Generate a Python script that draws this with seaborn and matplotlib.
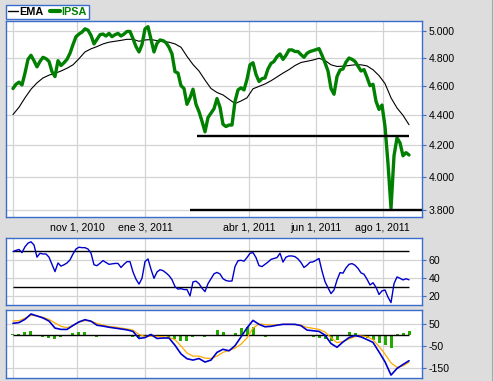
import numpy as np
import pandas as pd
import matplotlib
matplotlib.use("Agg")
import matplotlib.pyplot as plt
import seaborn as sns
from matplotlib.lines import Line2D
from matplotlib.ticker import NullLocator

# ---------------- data ----------------
# x axis: trading-session sample index (about two sessions per sample)
date_tick_pos = [0, 21.4, 44.1, 78.6, 100.9, 123.2]
date_tick_labels = ["", "nov 1, 2010", "ene 3, 2011", "abr 1, 2011", "jun 1, 2011", "ago 1, 2011"]

ipsa = [4580, 4610, 4625, 4605, 4690, 4790, 4820, 4780, 4735, 4775,
        4805, 4795, 4775, 4700, 4665, 4780, 4745, 4765, 4790, 4835,
        4900, 4960, 4980, 4995, 5020, 5010, 4970, 4905, 4940, 4975,
        4980, 4965, 4985, 4960, 4975, 4985, 4965, 4980, 5000, 5000,
        4945, 4885, 4845, 4900, 5020, 5037, 4940, 4845, 4910, 4935,
        4930, 4915, 4880, 4830, 4700, 4690, 4600, 4580, 4470, 4515,
        4575, 4470, 4420, 4355, 4285, 4380, 4410, 4440, 4510, 4450,
        4335, 4320, 4330, 4330, 4490, 4570, 4585, 4570, 4645, 4750,
        4765, 4680, 4630, 4650, 4655, 4720, 4760, 4775, 4810, 4830,
        4790, 4820, 4860, 4860, 4848, 4848, 4825, 4805, 4835, 4848,
        4855, 4862, 4870, 4820, 4765, 4705, 4580, 4540, 4665, 4712,
        4720, 4770, 4800, 4790, 4775, 4740, 4705, 4715, 4660, 4600,
        4610, 4491, 4435, 4465, 4320, 4080, 3810, 4130, 4245, 4213,
        4130, 4150, 4135]

# EMA, MACD, signal and histogram are read every second sample
ema = [4400, 4450, 4515, 4575, 4620, 4655, 4675, 4688, 4705, 4725,
       4750, 4795, 4845, 4868, 4885, 4905, 4918, 4925, 4932, 4940,
       4940, 4925, 4935, 4938, 4930, 4922, 4918, 4905, 4880, 4812,
       4752, 4705, 4640, 4580, 4552, 4535, 4505, 4475, 4493, 4515,
       4578, 4595, 4612, 4635, 4662, 4690, 4715, 4745, 4767, 4776,
       4785, 4798, 4782, 4750, 4738, 4740, 4745, 4750, 4750, 4742,
       4714, 4672, 4615, 4515, 4445, 4395, 4332]

support_levels = [4260, 3800]
support_start = [61.3, 59.0]
support_end = [132.0, 137.0]

rsi = [69.6, 71, 72, 68.5, 75, 79, 80.5, 77, 63.5, 67.8,
       67, 67, 63.5, 55.5, 47.4, 57, 53.5, 55, 57, 60.4,
       67, 72.5, 74.5, 74, 74, 72.5, 68, 55, 54, 56.7,
       59.6, 57.5, 55.5, 56, 56.5, 56.5, 52, 55.5, 58.5, 58.5,
       47, 39, 33.5, 40, 58.5, 61.5, 50, 40, 47, 49.5,
       48.5, 46, 43, 38.5, 30.7, 28, 28.5, 27.5, 27.5, 20.4,
       36, 36.8, 34, 29, 25.2, 34, 39.5, 45, 46.5, 44.8,
       39.5, 37.5, 36.8, 37, 53, 59.5, 60, 59, 63, 67.8,
       68.5, 63, 54, 53, 55.5, 58, 61, 62, 63, 67.8,
       58, 63.5, 64.8, 64.8, 64, 61.5, 57.5, 52, 54.5, 57.8,
       58.2, 60, 62, 48, 36.3, 29.5, 23, 27, 38, 46.3,
       45.7, 51.5, 55.5, 56.3, 54.5, 51, 46, 44.5, 39, 32.6,
       35, 30, 22, 26, 27, 19, 13, 34, 41.5, 40,
       38.2, 39.5, 38.3]
rsi_levels = [70, 30]

macd = [54.5, 58, 72.7, 97, 88, 79, 65, 33, 27, 27,
        45, 61, 71, 64, 46, 42, 37, 33, 29, 25,
        18, -14, -10, 4, -14, -12, -12, -45, -84, -106,
        -112, -105, -121, -112, -77, -63, -70, -47, -7, 34,
        68, 50, 39, 41, 46, 50, 50, 50, 44, 24,
        21, 18, 1, -37, -54, -30, -10, -1, -7, -19,
        -32, -75, -120, -180, -150, -132, -115]
signal = [65, 66.5, 78, 91, 88, 82, 72, 56, 41, 35,
          44, 60, 67, 65, 54, 47, 40, 38, 33, 29,
          24, 4, -5, -4, -5, -6, -9, -20, -48, -80,
          -94, -94, -103, -105, -94, -77, -68, -58, -40, -12,
          33, 52, 49, 47, 48, 50, 50, 49, 46, 36,
          32, 27, 15, -10, -33, -28, -16, -6, -3, -6,
          -20, -50, -85, -125, -145, -138, -122]
hist = [5, 7, 15, 19, 0, -8, -11, -15, -9, 3,
        12, 17, 17, 3, -8, -4, -3, -3, -4, -3,
        -6, -12, -3, 6, -5, -4, -7, -17, -25, -25,
        -6, -3, -9, 2, 25, 16, -2, 12, 32, 38,
        36, -2, -7, -4, -1, 1, 1, 0, -2, -5,
        -8, -10, -16, -25, -20, 3, 14, 10, -4, -12,
        -22, -33, -45, -55, 5, 12, 18]

price_ticks = [3800, 4000, 4200, 4400, 4600, 4800, 5000]
price_tick_labels = ["3.800", "4.000", "4.200", "4.400", "4.600", "4.800", "5.000"]
rsi_ticks = [20, 40, 60]
macd_ticks = [50, -50, -150]

# ---------------- style ----------------
sns.set_theme(style="white")
plt.rcParams['font.family'] = ['Liberation Sans', 'DejaVu Sans']

BG = '#dddddd'
SPINE = '#3a6ccc'
GRID = '#d3d3d3'
GREEN = '#008000'
FS = 7.6

W, H = 494, 381
fig = plt.figure(figsize=(W / 100, H / 100), dpi=100, facecolor=BG)


def axes_px(l, t, r, b):
    return fig.add_axes([l / W, 1 - b / H, (r - l) / W, (b - t) / H])


ax1 = axes_px(6, 21, 422, 217)
ax2 = axes_px(6, 238.3, 422, 305.3)
ax3 = axes_px(6, 310, 422, 377.5)

n = len(ipsa)
x = np.arange(n)
x2 = np.arange(0, n, 2)
df_price = pd.DataFrame({'x': x, 'IPSA': ipsa, 'RSI': rsi})
df_ind = pd.DataFrame({'x': x2, 'EMA': ema, 'MACD': macd, 'Signal': signal, 'Hist': hist})

xlim = (-2.33, 136.33)

# ---- main price panel ----
sns.lineplot(data=df_ind, x='x', y='EMA', color='black', linewidth=0.8, ax=ax1, zorder=3)
sns.lineplot(data=df_price, x='x', y='IPSA', color=GREEN, linewidth=2.4, ax=ax1, zorder=4)
ax1.hlines(support_levels, support_start, support_end, colors='black', linewidth=1.7, zorder=5)
ax1.set_yscale('log')
ax1.set_ylim(3759, 5081)
ax1.set_yticks(price_ticks)
ax1.set_yticklabels(price_tick_labels)
ax1.yaxis.set_minor_locator(NullLocator())
ax1.set_xticks(date_tick_pos)
ax1.set_xticklabels(date_tick_labels)

# ---- RSI panel ----
sns.lineplot(data=df_price, x='x', y='RSI', color='#0000cc', linewidth=1.0, ax=ax2, zorder=4)
ax2.hlines(rsi_levels, 0, 132, colors='black', linewidth=1.0, zorder=3)
ax2.set_ylim(10, 84.4)
ax2.set_yticks(rsi_ticks)
ax2.set_yticklabels([str(v) for v in rsi_ticks])

# ---- MACD panel ----
ax3.bar(x2, hist, width=1.0, color='#22aa00', linewidth=0, zorder=2)
ax3.hlines([0], 0, 132, colors='black', linewidth=1.0, zorder=3)
sns.lineplot(data=df_ind, x='x', y='Signal', color='#ffaa00', linewidth=0.9, ax=ax3, zorder=4)
sns.lineplot(data=df_ind, x='x', y='MACD', color='#0000cc', linewidth=1.2, ax=ax3, zorder=5)
ax3.set_ylim(-191, 115)
ax3.set_yticks(macd_ticks)
ax3.set_yticklabels([str(v) for v in macd_ticks])

for ax in (ax1, ax2, ax3):
    ax.set_facecolor('white')
    ax.set_xlim(*xlim)
    ax.set_xlabel('')
    ax.set_ylabel('')
    ax.set_axisbelow(True)
    ax.grid(True, color=GRID, linewidth=0.9)
    ax.yaxis.tick_right()
    ax.tick_params(axis='y', which='both', direction='out', length=3, width=0.8,
                   color=SPINE, labelsize=FS, labelcolor='black', pad=2, right=True, left=False)
    for s in ax.spines.values():
        s.set_color(SPINE)
        s.set_linewidth(1.0)
    if ax is not ax1:
        ax.set_xticks(date_tick_pos)
        ax.set_xticklabels([])
    ax.tick_params(axis='x', length=0, labelsize=FS, labelcolor='black', pad=4)

# legend box
handles = [Line2D([], [], color='black', linewidth=1.0),
           Line2D([], [], color=GREEN, linewidth=3.0)]
leg = fig.legend(handles, ['EMA', 'IPSA'], loc='upper left',
                 bbox_to_anchor=(6 / W, 1 - 5 / H), ncol=2, frameon=True,
                 fancybox=False, edgecolor=SPINE, facecolor='white', framealpha=1,
                 prop={'weight': 'bold', 'size': 7.8}, handlelength=0.9,
                 handletextpad=0.15, columnspacing=0.6, borderpad=0.2,
                 borderaxespad=0)
for t, c in zip(leg.get_texts(), ['black', GREEN]):
    t.set_color(c)
leg.get_frame().set_linewidth(1.0)

# right edge divider
fig.add_artist(Line2D([491.8 / W, 491.8 / W], [0, 1], transform=fig.transFigure,
                      color='#a8a8a8', linewidth=0.8))

fig.savefig('out.png', dpi=100, facecolor=BG)
